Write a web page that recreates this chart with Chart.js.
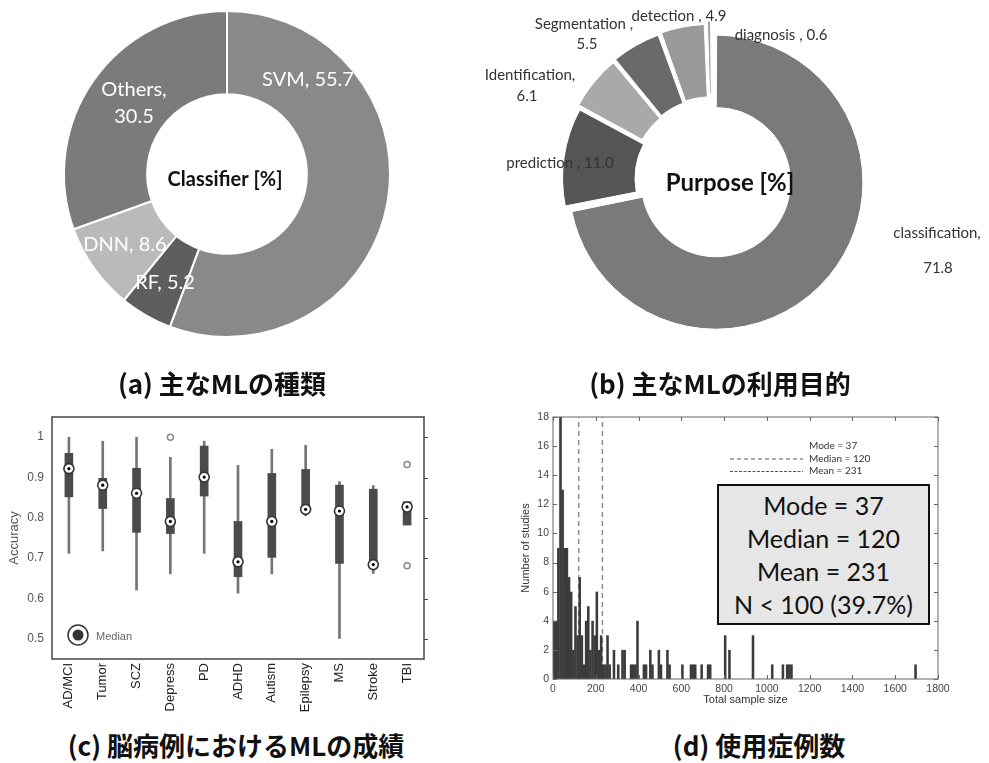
<!DOCTYPE html>
<html lang="ja">
<head>
<meta charset="UTF-8">
<title>ML in brain imaging - summary figures</title>
<script src="https://cdn.jsdelivr.net/npm/chart.js"></script>
<style>
  body { margin: 0; background: #fff; width: 989px; height: 763px; position: relative; overflow: hidden; }
  canvas { position: absolute; }
  .cap { position: absolute; transform: translateX(-50%); font-family: "Noto Sans CJK JP", sans-serif; font-weight: 700;
         font-size: 26px; line-height: 26px; white-space: nowrap; color: #111; }
  #statBox { position: absolute; left: 717px; top: 484px; width: 213px; height: 141px; box-sizing: border-box;
             background: #e6e6e6; border: 2px solid #111; font-family: Lato, sans-serif; font-size: 25px;
             line-height: 33px; text-align: center; color: #111; padding-top: 3px; }
</style>
</head>
<body>
<canvas id="chartA" width="454" height="348" style="left:0;top:0"></canvas>
<canvas id="chartB" width="544" height="358" style="left:440px;top:0"></canvas>
<canvas id="chartC" width="440" height="320" style="left:0;top:400px"></canvas>
<canvas id="chartD" width="489" height="320" style="left:500px;top:400px"></canvas>
<div id="statBox"></div>
<div class="cap" style="left:222px;top:370px">(a) 主なMLの種類</div>
<div class="cap" style="left:720px;top:370px">(b) 主なMLの利用目的</div>
<div class="cap" style="left:236px;top:732px">(c) 脳病例におけるMLの成績</div>
<div class="cap" style="left:759px;top:732px">(d) 使用症例数</div>

<script>
// (a) classifier share [%]
const classifierNames = ['SVM', 'RF', 'DNN', 'Others'];
const classifierValues = [55.7, 5.2, 8.6, 30.5];

// (b) purpose share [%]
const purposeNames = ['classification', 'prediction', 'Identification', 'Segmentation', 'detection', 'diagnosis'];
const purposeValues = [71.8, 11.0, 6.1, 5.5, 4.9, 0.6];

// (c) accuracy box plots
const diseases = ['AD/MCI', 'Tumor', 'SCZ', 'Depress', 'PD', 'ADHD', 'Autism', 'Epilepsy', 'MS', 'Stroke', 'TBI'];
const whiskerHigh = [1.0, 0.99, 1.0, 0.95, 0.99, 0.93, 0.97, 0.98, 0.89, 0.88, null];
const q3 = [0.96, 0.898, 0.923, 0.848, 0.978, 0.791, 0.91, 0.92, 0.881, 0.871, 0.84];
const medians = [0.922, 0.881, 0.861, 0.791, 0.901, 0.691, 0.791, 0.821, 0.817, 0.684, 0.827];
const q1 = [0.852, 0.823, 0.764, 0.761, 0.854, 0.654, 0.702, 0.818, 0.687, 0.684, 0.782];
const whiskerLow = [0.712, 0.718, 0.621, 0.661, 0.712, 0.613, 0.661, 0.805, 0.501, 0.662, null];
const outlierGroups = ['Depress', 'TBI', 'TBI'];
const outlierValues = [1.0, 0.932, 0.681];
const accuracyTicks = [0.5, 0.6, 0.7, 0.8, 0.9, 1.0];

// (d) histogram of total sample size (bin width 10)
const binWidth = 10;
const binStarts = [0, 10, 20, 30, 40, 50, 60, 70, 80, 90, 100, 110, 120, 130, 140, 150, 160, 170, 180, 190,
  200, 210, 220, 230, 240, 250, 260, 280, 300, 320, 330, 360, 370, 380, 390, 420, 430, 450, 460, 490, 500, 530, 540,
  600, 640, 650, 660, 690, 720, 730, 800, 820, 930, 1020, 1070, 1090, 1100, 1110, 1690];
const binCounts = [4, 4, 9, 18, 13, 9, 9, 7, 6, 2, 5, 3, 7, 3, 1, 4, 5, 2, 4, 3,
  6, 2, 3, 1, 1, 3, 1, 2, 1, 2, 2, 1, 1, 1, 4, 1, 1, 2, 1, 2, 1, 2, 1,
  1, 1, 1, 1, 1, 1, 1, 3, 2, 3, 1, 1, 1, 1, 1, 1];
const statNames = ['Mode', 'Median', 'Mean'];
const statValues = [37, 120, 231];
const shareBelow100 = 39.7;
const sampleTicks = [0, 200, 400, 600, 800, 1000, 1200, 1400, 1600, 1800];
const studyTicks = [0, 2, 4, 6, 8, 10, 12, 14, 16, 18];

Chart.defaults.font.family = '"Liberation Sans", Arial, sans-serif';
Chart.defaults.animation = false;

// labels drawn around / inside the doughnut, relative to its centre
const sliceLabels = {
  id: 'sliceLabels',
  afterDatasetsDraw(chart, args, o) {
    const { ctx, chartArea: a } = chart;
    const cx = (a.left + a.right) / 2, cy = (a.top + a.bottom) / 2;
    const names = chart.data.labels, vals = chart.data.datasets[0].data;
    ctx.save();
    ctx.textAlign = 'center';
    ctx.textBaseline = 'middle';
    ctx.font = o.font;
    ctx.fillStyle = o.color;
    names.forEach((n, i) => {
      const lines = (n + o.sep[i] + vals[i].toFixed(1)).split('\n');
      lines.forEach((t, j) => ctx.fillText(t, cx + o.pos[i][j][0], cy + o.pos[i][j][1]));
    });
    ctx.font = o.centerFont;
    ctx.fillStyle = '#111';
    ctx.fillText(o.centerText, cx + o.centerPos[0], cy + o.centerPos[1]);
    ctx.restore();
  }
};

// box around the plot area with optional tick marks (positive = inward)
const frame = {
  id: 'frame',
  afterDraw(chart, args, o) {
    const { ctx, chartArea: a, scales } = chart;
    const t = o.ticks;
    ctx.save();
    ctx.strokeStyle = o.color;
    ctx.lineWidth = 1;
    ctx.beginPath();
    if (t.top || t.bottom) {
      scales.x.ticks.forEach(tk => {
        const px = Math.round(scales.x.getPixelForValue(tk.value)) + 0.5;
        ctx.moveTo(px, a.bottom); ctx.lineTo(px, a.bottom - t.bottom);
        ctx.moveTo(px, a.top); ctx.lineTo(px, a.top + t.top);
      });
    }
    scales.y.ticks.forEach(tk => {
      const py = Math.round(scales.y.getPixelForValue(tk.value)) + 0.5;
      if (t.left) { ctx.moveTo(a.left, py); ctx.lineTo(a.left + t.left, py); }
      if (t.right) { ctx.moveTo(a.right, py); ctx.lineTo(a.right - t.right, py); }
    });
    ctx.stroke();
    ctx.lineWidth = o.width;
    ctx.strokeRect(a.left, a.top, a.right - a.left, a.bottom - a.top);
    ctx.restore();
  }
};

const medianKey = {
  id: 'medianKey',
  afterDraw(chart) {
    const { ctx, chartArea: a } = chart;
    const x = a.left + 26, y = a.top + 218;
    ctx.save();
    ctx.strokeStyle = '#333';
    ctx.lineWidth = 1.5;
    ctx.beginPath(); ctx.arc(x, y, 10, 0, Math.PI * 2); ctx.stroke();
    ctx.fillStyle = '#333';
    ctx.beginPath(); ctx.arc(x, y, 5.5, 0, Math.PI * 2); ctx.fill();
    ctx.fillStyle = '#666';
    ctx.font = '11px "Liberation Sans", Arial, sans-serif';
    ctx.textBaseline = 'middle';
    ctx.fillText('Median', x + 18, y + 2);
    ctx.restore();
  }
};

const statLegend = {
  id: 'statLegend',
  afterDraw(chart, args, o) {
    const { ctx, chartArea: a } = chart;
    ctx.save();
    ctx.font = '10px Lato, sans-serif';
    ctx.textBaseline = 'middle';
    statNames.forEach((n, i) => {
      const y = a.top + o.top + i * o.gap;
      ctx.fillStyle = '#333';
      ctx.fillText(n + ' = ' + statValues[i], a.left + o.textX, y);
      if (o.dash[i]) {
        ctx.setLineDash(o.dash[i]);
        ctx.strokeStyle = '#555';
        ctx.lineWidth = 1;
        ctx.beginPath();
        ctx.moveTo(a.left + o.lineX0, y + 0.5);
        ctx.lineTo(a.left + o.lineX1, y + 0.5);
        ctx.stroke();
      }
    });
    ctx.restore();
  }
};

// (a)
new Chart(document.getElementById('chartA'), {
  type: 'doughnut',
  data: {
    labels: classifierNames,
    datasets: [{ data: classifierValues, backgroundColor: ['#898989', '#5e5e5e', '#bababa', '#7b7b7b'],
                 borderColor: '#fff', borderWidth: 2 }]
  },
  options: {
    responsive: false, radius: 163, cutout: '49%', layout: { padding: 0 },
    plugins: {
      legend: { display: false }, tooltip: { enabled: false },
      sliceLabels: {
        font: '20px Lato, sans-serif', color: '#fff',
        sep: [', ', ', ', ', ', ',\n'],
        pos: [[[81, -94]], [[-62, 109]], [[-102, 71]], [[-93, -84], [-93, -57]]],
        centerText: 'Classifier [%]', centerFont: 'bold 20px Lato, sans-serif', centerPos: [-2, 6]
      }
    }
  },
  plugins: [sliceLabels]
});

// (b)
new Chart(document.getElementById('chartB'), {
  type: 'doughnut',
  data: {
    labels: purposeNames,
    datasets: [{ data: purposeValues,
                 backgroundColor: ['#7a7a7a', '#555555', '#a9a9a9', '#6a6a6a', '#9a9a9a', '#a0a0a0'],
                 borderColor: '#fff', borderWidth: 1, offset: [20, 22, 26, 28, 30, 32] }]
  },
  options: {
    responsive: false, radius: 142, cutout: '49%', layout: { padding: 0 },
    plugins: {
      legend: { display: false }, tooltip: { enabled: false },
      sliceLabels: {
        font: '15px Lato, sans-serif', color: '#333',
        sep: [',\n', ' , ', ',\n', ' ,\n', ' , ', ' , '],
        pos: [[[225, 54], [226, 89]], [[-152, -16]], [[-182, -104], [-185, -83]],
              [[-128, -155], [-125, -135]], [[-33, -163]], [[69, -144]]],
        centerText: 'Purpose [%]', centerFont: 'bold 24px Lato, sans-serif', centerPos: [18, 4]
      }
    }
  },
  plugins: [sliceLabels]
});

// (c)
new Chart(document.getElementById('chartC'), {
  type: 'bar',
  data: {
    labels: diseases,
    datasets: [
      { data: diseases.map((d, i) => whiskerLow[i] == null ? null : [whiskerLow[i], whiskerHigh[i]]),
        backgroundColor: '#767676', barThickness: 2, grouped: false, order: 5 },
      { data: diseases.map((d, i) => [q1[i], q3[i]]),
        backgroundColor: '#4b4b4b', barThickness: 8, grouped: false, order: 4 },
      { type: 'line', data: outlierGroups.map((g, i) => ({ x: g, y: outlierValues[i] })), showLine: false,
        pointRadius: 3, pointBackgroundColor: '#fff', pointBorderColor: '#8a8a8a', pointBorderWidth: 1.5, order: 3 },
      { type: 'line', data: medians, showLine: false, pointRadius: 5, pointBackgroundColor: '#fff',
        pointBorderColor: '#333', pointBorderWidth: 1.6, order: 2 },
      { type: 'line', data: medians, showLine: false, pointRadius: 1.6, pointBackgroundColor: '#000',
        pointBorderWidth: 0, order: 1 }
    ]
  },
  options: {
    responsive: false,
    layout: { padding: { left: 3, top: 17, right: 16, bottom: 0 } },
    plugins: {
      legend: { display: false }, tooltip: { enabled: false },
      frame: { color: '#444', width: 1.5, ticks: { top: 0, bottom: 0, left: 0, right: -4 } }
    },
    scales: {
      x: {
        grid: { display: false, drawTicks: false }, border: { display: false },
        ticks: { color: '#222', font: { size: 13 }, minRotation: 90, maxRotation: 90, padding: 4, autoSkip: false },
        afterFit: s => { s.height = 61; }
      },
      y: {
        min: 0.45, max: 1.05,
        grid: { display: false, drawTicks: false }, border: { display: false },
        afterBuildTicks: s => { s.ticks = accuracyTicks.map(v => ({ value: v })); },
        ticks: { color: '#555', font: { size: 12 }, padding: 8, callback: v => String(+v.toFixed(1)) },
        title: { display: true, text: 'Accuracy', color: '#555', font: { size: 13 } },
        afterFit: s => { s.width = 49; }
      }
    }
  },
  plugins: [frame, medianKey]
});

// (d)
const statLineStyles = [[2, 2], [5, 4], [5, 4]];
new Chart(document.getElementById('chartD'), {
  type: 'bar',
  data: {
    datasets: [
      ...statValues.map((v, i) => ({
        type: 'line', data: [{ x: v, y: 0 }, { x: v, y: 18 }], borderColor: '#8c8c8c', borderWidth: 1.5,
        borderDash: statLineStyles[i], pointRadius: 0, order: 2
      })),
      { data: binStarts.map((s, i) => ({ x: s + binWidth / 2, y: binCounts[i] })), backgroundColor: '#3b3b3b',
        barPercentage: 1.2, categoryPercentage: 1, order: 1 }
    ]
  },
  options: {
    responsive: false,
    layout: { padding: { left: 15, top: 17, right: 51, bottom: 9 } },
    plugins: {
      legend: { display: false }, tooltip: { enabled: false },
      frame: { color: '#666', width: 1, ticks: { top: 4, bottom: 4, left: 4, right: 4 } },
      statLegend: { top: 29, gap: 12.5, textX: 256, lineX0: 177, lineX1: 250, dash: [null, [4, 3], [3, 1.5]] }
    },
    scales: {
      x: {
        type: 'linear', min: 0, max: 1800, offset: false,
        grid: { display: false, drawTicks: false, offset: false }, border: { display: false },
        afterBuildTicks: s => { s.ticks = sampleTicks.map(v => ({ value: v })); },
        ticks: { color: '#444', font: { size: 10.5 }, padding: 4, callback: v => String(v) },
        title: { display: true, text: 'Total sample size', color: '#333', font: { size: 11 } },
        afterFit: s => { s.height = 32; }
      },
      y: {
        min: 0, max: 18,
        grid: { display: false, drawTicks: false }, border: { display: false },
        afterBuildTicks: s => { s.ticks = studyTicks.map(v => ({ value: v })); },
        ticks: { color: '#444', font: { size: 10.5 }, padding: 4, callback: v => String(v) },
        title: { display: true, text: 'Number of studies', color: '#333', font: { size: 11 } },
        afterFit: s => { s.width = 38; }
      }
    }
  },
  plugins: [frame, statLegend]
});

document.getElementById('statBox').innerHTML = [
  statNames[0] + ' = ' + statValues[0],
  statNames[1] + ' = ' + statValues[1],
  statNames[2] + ' = ' + statValues[2],
  'N &lt; 100 (' + shareBelow100.toFixed(1) + '%)'
].join('<br>');
</script>
</body>
</html>
